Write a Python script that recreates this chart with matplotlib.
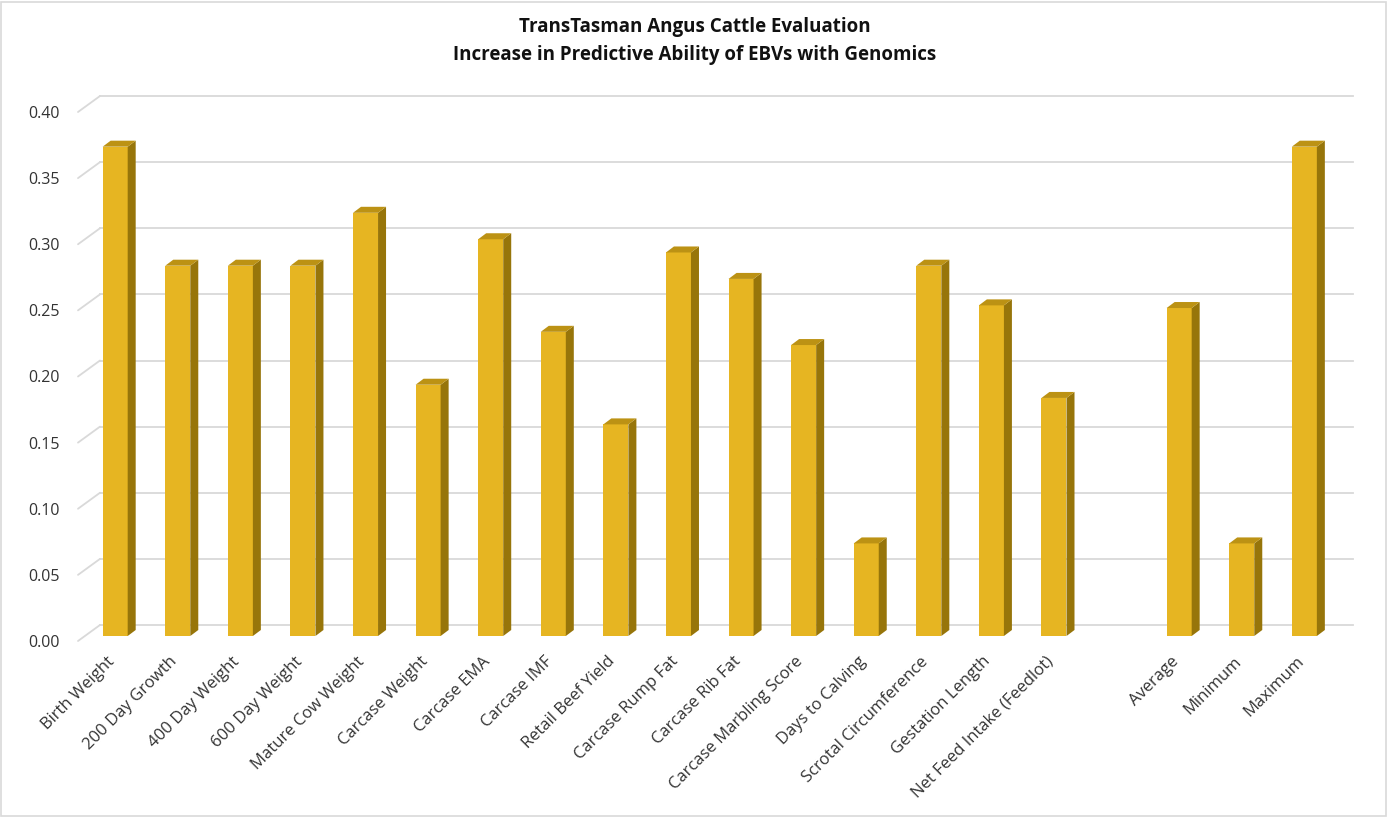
import numpy as np
import matplotlib
matplotlib.use("Agg")
import matplotlib.pyplot as plt
from matplotlib.patches import Polygon, Rectangle
from matplotlib.transforms import ScaledTranslation

plt.rcParams['font.family'] = ['Open Sans', 'DejaVu Sans']

# --- data ---
categorias = ["Birth Weight", "200 Day Growth", "400 Day Weight", "600 Day Weight",
              "Mature Cow Weight", "Carcase Weight", "Carcase EMA", "Carcase IMF",
              "Retail Beef Yield", "Carcase Rump Fat", "Carcase Rib Fat",
              "Carcase Marbling Score", "Days to Calving", "Scrotal Circumference",
              "Gestation Length", "Net Feed Intake (Feedlot)", "",
              "Average", "Minimum", "Maximum"]
valores = [0.37, 0.28, 0.28, 0.28, 0.32, 0.19, 0.30, 0.23, 0.16, 0.29, 0.27,
           0.22, 0.07, 0.28, 0.25, 0.18, np.nan, 0.248, 0.07, 0.37]
yticks = [0.00, 0.05, 0.10, 0.15, 0.20, 0.25, 0.30, 0.35, 0.40]

titulo = "TransTasman Angus Cattle Evaluation\nIncrease in Predictive Ability of EBVs with Genomics"

# --- estilo ---
c_frente = '#E6B522'
c_lado = '#97750A'
c_arriba = '#BC9214'
c_grid = '#D9D9D9'
c_texto = '#333333'
ancho = 0.4

fig = plt.figure(figsize=(13.89, 8.17), dpi=100)
ax = fig.add_axes([78/1389, (817-641)/817, (1331-78)/1389, (641-112)/817])
ax.set_xlim(-0.6, 19.42)
ax.set_ylim(0, 0.40)
for s in ax.spines.values():
    s.set_visible(False)
ax.patch.set_alpha(0)

dpi = fig.dpi
# pared del fondo desplazada (3D falso)
fondo = ax.transData + ScaledTranslation(22/dpi, 16/dpi, fig.dpi_scale_trans)
barras = ax.transData + ScaledTranslation(4/dpi, 5/dpi, fig.dpi_scale_trans)

x0, x1 = ax.get_xlim()
for v in yticks:
    ax.plot([x0, x1], [v, v], color=c_grid, lw=1.3, transform=fondo, zorder=1,
            clip_on=False)
    # linea inclinada a la izquierda
    ax.annotate("", xy=(x0, v), xycoords=fondo, xytext=(x0, v), textcoords='data',
                arrowprops=dict(arrowstyle='-', color=c_grid, lw=1.3, shrinkA=0, shrinkB=0))

# --- barras con efecto 3D ---
prof_x = 8 / dpi
prof_y = 6 / dpi
for i, v in enumerate(valores):
    if np.isnan(v):
        continue
    xl, xr = i - ancho/2 - 0.07, i + ancho/2 - 0.07
    ax.add_patch(Rectangle((xl, 0), xr - xl, v, facecolor=c_frente, edgecolor='none',
                           transform=barras, zorder=3))
    # convertir a pixeles para el lado y la tapa
    p_bl = barras.transform((xr, 0))
    p_tl = barras.transform((xr, v))
    p_tf = barras.transform((xl, v))
    dx, dy = prof_x * dpi, prof_y * dpi
    lado = Polygon([p_bl, p_tl, (p_tl[0] + dx, p_tl[1] + dy), (p_bl[0] + dx, p_bl[1] + dy)],
                   closed=True, facecolor=c_lado, edgecolor='none', transform=None, zorder=3)
    tapa = Polygon([p_tf, p_tl, (p_tl[0] + dx, p_tl[1] + dy), (p_tf[0] + dx, p_tf[1] + dy)],
                   closed=True, facecolor=c_arriba, edgecolor='none', transform=None, zorder=3)
    fig.patches.append(lado)
    fig.patches.append(tapa)

ax.set_yticks(yticks)
ax.set_yticklabels([f"{v:.2f}" for v in yticks], fontsize=11.5, color=c_texto)
ax.tick_params(axis='y', length=0, pad=13)
ax.set_xticks(range(len(categorias)))
ax.set_xticklabels(categorias, rotation=45, ha='right', va='top',
                   rotation_mode='anchor', fontsize=12, color=c_texto)
ax.tick_params(axis='x', length=0, pad=9)
desplaza = ScaledTranslation(-9/dpi, 0, fig.dpi_scale_trans)
for lbl in ax.get_xticklabels():
    lbl.set_transform(lbl.get_transform() + desplaza)

fig.text(0.5, 1 - 41/817, titulo, ha='center', va='center', fontsize=13.5,
         fontweight='bold', color='#111111', linespacing=1.55)

# borde del area del grafico
fig.patches.append(Rectangle((0.001, 0.001), 0.997, 0.997, transform=fig.transFigure,
                             fill=False, edgecolor='#D9D9D9', lw=1.2))

fig.savefig("out.png", dpi=100)
